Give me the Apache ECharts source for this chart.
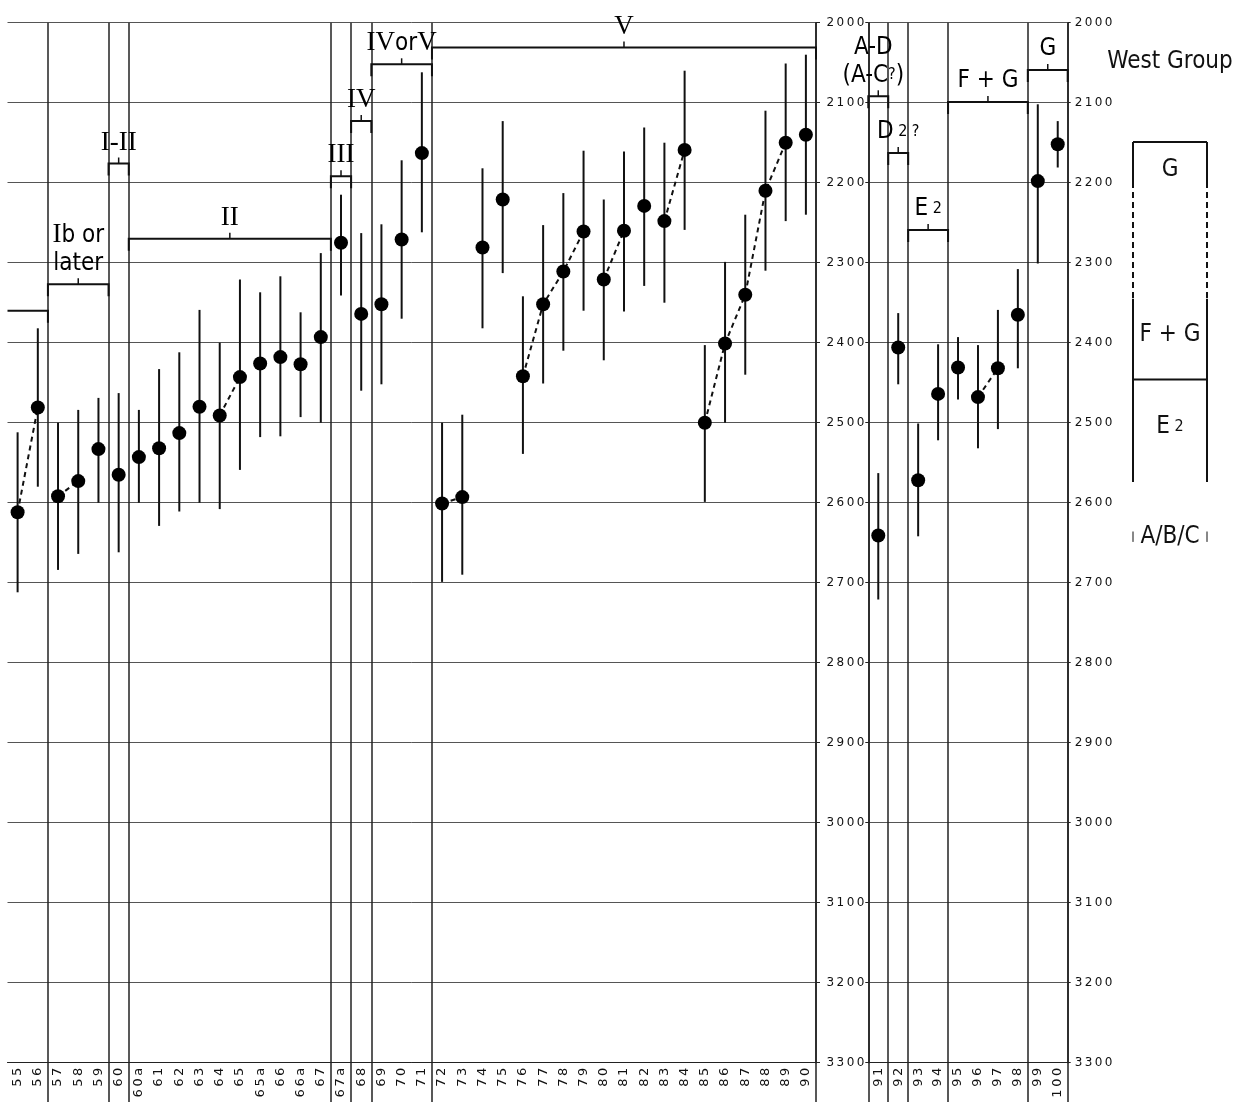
<!DOCTYPE html>
<html>
<head>
<meta charset="utf-8">
<script src="https://cdn.jsdelivr.net/npm/echarts@6/dist/echarts.min.js"></script>
<style>html,body{margin:0;padding:0;background:#fff}#chart{width:1241px;height:1102px}</style>
</head>
<body>
<div id="chart"></div>
<script>
// ---------------- data ----------------
const leftCategories = ['55','56','57','58','59','60','60a','61','62','63','64','65','65a','66','66a','67','67a','68','69','70','71',
  '72','73','74','75','76','77','78','79','80','81','82','83','84','85','86','87','88','89','90'];
const leftMid  = [2612,2481,2592,2573,2533,2565,2543,2532,2513,2480,2491,2443,2426,2418,2427,2393,2275,2364,2352,2271,2163,
  2601,2593,2281,2221,2442,2352,2311,2261,2321,2260,2229,2248,2159,2500,2401,2340,2210,2150,2140];
const leftLow  = [2512,2382,2500,2484,2469,2463,2484,2433,2412,2359,2400,2321,2337,2317,2362,2288,2215,2263,2252,2172,2062,
  2500,2490,2182,2123,2342,2253,2213,2160,2221,2161,2131,2150,2060,2403,2299,2240,2110,2051,2040];
const leftHigh = [2712,2580,2684,2664,2600,2662,2600,2629,2611,2600,2608,2559,2518,2517,2493,2500,2341,2460,2452,2370,2262,
  2699,2690,2382,2313,2539,2451,2410,2360,2422,2361,2329,2350,2259,2599,2500,2440,2310,2248,2240];

const rightCategories = ['91','92','93','94','95','96','97','98','99','100'];
const rightMid  = [2641,2406,2572,2464,2431,2468,2432,2365,2198,2152];
const rightLow  = [2563,2363,2501,2402,2393,2403,2359,2308,2102,2123];
const rightHigh = [2721,2452,2642,2522,2471,2532,2508,2432,2301,2181];

// dated samples joined by dashed lines
const leftLinked  = [['55','56'],['57','58'],['64','65'],['72','73'],['76','77','78','79'],['80','81'],['83','84'],['85','86','87','88','89']];
const rightLinked = [['96','97']];

// divider lines drawn before these samples
const leftDividers  = ['57','60','60a','67a','68','69','72'];
const rightDividers = ['91','92','93','95','99'];

// phase brackets: first sample, last sample, level (years BC), text
const leftPhaseFrom = ['55','57','60','60a','67a','68','69','72'];
const leftPhaseTo   = ['56','59','60','67','67a','68','71','90'];
const leftPhaseAt   = [2360,2327,2176,2270,2192,2123,2052,2031];
const leftPhaseText = ['','Ib or later','I-II','II','III','IV','IV or V','V'];

const rightPhaseFrom = ['91','92','93','95','99'];
const rightPhaseTo   = ['91','92','94','98','100'];
const rightPhaseAt   = [2092,2163,2259,2099,2059];
const rightPhaseText = ['A-D (A-C?)','D2?','E2','F + G','G'];

// West Group key
const keyLevels = [2149,2199,2345,2446,2574];     // top, dashed start, dashed end, divider, bottom
const keyText   = ['West Group','G','F + G','E2','A/B/C'];
const keyTextAt = [2049,2184,2390,2505,2643];
const keyMarks  = [2636,2649];

const yMin = 2000, yMax = 3300, yStep = 100;

// ---------------- styling ----------------
const INK = '#111';
const COND = '"DejaVu Sans Condensed","Liberation Sans Narrow","Arial Narrow","DejaVu Sans",sans-serif';
const SERIF = '"Liberation Serif","DejaVu Serif",serif';
const RICH = {
  r: {fontFamily: SERIF, fontSize: 27, color: INK, lineHeight: 28},
  s: {fontFamily: COND, fontSize: 24, color: INK, lineHeight: 28},
  q: {fontFamily: COND, fontSize: 16, color: INK, lineHeight: 28}
};
const RICH_TEXT = {
  'Ib or later': '{r|I}{s|b or}\n{s|later}',
  'I-II': '{r|I-II}',
  'II': '{r|II}',
  'III': '{r|III}',
  'IV': '{r|IV}',
  'IV or V': '{r|IV}{s|or}{r|V}',
  'V': '{r|V}',
  'A-D (A-C?)': '{s|A-D}\n{s|(A-C}{q|?}{s|)}',
  'D2?': '{s|D}{q| 2 ?}',
  'E2': '{s|E}{q| 2}',
  'F + G': '{s|F + G}',
  'G': '{s|G}',
  'West Group': '{s|West Group}',
  'A/B/C': '{s|A/B/C}'
};
const LABEL_SHIFT = {'A-D (A-C?)': -5};

function spaced(v) { return String(v).split('').join('\u2009'); }

function dividerFn(cats, list) {
  return function (index) { return list.indexOf(cats[index]) >= 0; };
}

function errorBarSeries(cats, low, high, xi, yi) {
  return {
    type: 'custom', xAxisIndex: xi, yAxisIndex: yi, z: 3, clip: false, silent: true,
    data: cats.map((c, i) => [i, low[i], high[i]]),
    encode: {x: 0, y: [1, 2]},
    renderItem: function (params, api) {
      const a = api.coord([api.value(0), api.value(1)]);
      const b = api.coord([api.value(0), api.value(2)]);
      return {type: 'line', shape: {x1: a[0], y1: a[1], x2: b[0], y2: b[1]},
        style: {stroke: INK, lineWidth: 2}};
    }
  };
}

function pointSeries(cats, mid, xi, yi) {
  return {
    type: 'scatter', xAxisIndex: xi, yAxisIndex: yi, z: 5, silent: true,
    symbol: 'circle', symbolSize: 14,
    itemStyle: {color: '#000', opacity: 1},
    data: cats.map((c, i) => [c, mid[i]])
  };
}

function linkSeries(cats, mid, links, xi, yi) {
  return links.map(chain => ({
    type: 'line', xAxisIndex: xi, yAxisIndex: yi, z: 4,
    symbol: 'none', silent: true,
    lineStyle: {color: INK, width: 2, type: [5, 4], opacity: 1},
    data: chain.map(c => [c, mid[cats.indexOf(c)]])
  }));
}

function phaseSeries(cats, from, to, at, text, xi, yi) {
  return {
    type: 'custom', xAxisIndex: xi, yAxisIndex: yi, z: 6, clip: false, silent: true,
    data: from.map((f, i) => [cats.indexOf(f), cats.indexOf(to[i]), at[i]]),
    encode: {x: 0, y: 2},
    renderItem: function (params, api) {
      const t = text[params.dataIndex];
      const a = api.coord([api.value(0), api.value(2)]);
      const b = api.coord([api.value(1), api.value(2)]);
      const half = api.size([1, 0])[0] / 2;
      const x0 = a[0] - half, x1 = b[0] + half, y = a[1];
      const pts = t ? [[x0, y + 12], [x0, y], [x1, y], [x1, y + 12]]
                    : [[x0, y], [x1, y], [x1, y + 12]];
      const children = [{type: 'polyline', shape: {points: pts},
        style: {stroke: INK, lineWidth: 2, fill: null}}];
      if (t) {
        const cx = (x0 + x1) / 2;
        children.push({type: 'line', shape: {x1: cx, y1: y, x2: cx, y2: y - 6},
          style: {stroke: INK, lineWidth: 1.5}});
        children.push({type: 'text', style: {
          text: RICH_TEXT[t] || t, rich: RICH,
          x: cx + (LABEL_SHIFT[t] || 0), y: y - 7,
          align: 'center', verticalAlign: 'bottom',
          textAlign: 'center', textVerticalAlign: 'bottom'
        }});
      }
      return {type: 'group', children: children};
    }
  };
}

function catAxis(gridIndex, cats, dividers) {
  const fn = dividerFn(cats, dividers);
  return {
    type: 'category', gridIndex: gridIndex, data: cats, boundaryGap: true,
    axisLine: {show: true, lineStyle: {color: '#222', width: 1}},
    axisTick: {show: true, interval: fn, length: 40, alignWithLabel: false,
      lineStyle: {color: '#222', width: 1.5}},
    axisLabel: {interval: 0, rotate: 90, fontSize: 13, fontFamily: '"DejaVu Sans",sans-serif',
      color: INK, margin: 5, formatter: spaced},
    splitLine: {show: true, interval: fn, lineStyle: {color: '#222', width: 1.5}}
  };
}

function valAxis(gridIndex, opts) {
  return Object.assign({
    type: 'value', gridIndex: gridIndex, inverse: true,
    min: yMin, max: yMax, interval: yStep,
    axisLine: {show: true, lineStyle: {color: '#222', width: 1.5}},
    axisTick: {show: true, length: 3, lineStyle: {color: '#222'}},
    axisLabel: {show: false},
    splitLine: {show: false}
  }, opts);
}

const yLabel = {show: true, fontSize: 12, fontFamily: '"DejaVu Sans",sans-serif', color: INK, formatter: spaced};

const keySegments = [
  {pts: [[0, keyLevels[0]], [1, keyLevels[0]]]},
  {pts: [[0, keyLevels[0]], [0, keyLevels[1]]]},
  {pts: [[1, keyLevels[0]], [1, keyLevels[1]]]},
  {pts: [[0, keyLevels[1]], [0, keyLevels[2]]], dashed: true},
  {pts: [[1, keyLevels[1]], [1, keyLevels[2]]], dashed: true},
  {pts: [[0, keyLevels[2]], [0, keyLevels[4]]]},
  {pts: [[1, keyLevels[2]], [1, keyLevels[4]]]},
  {pts: [[0, keyLevels[3]], [1, keyLevels[3]]]},
  {pts: [[0, keyMarks[0]], [0, keyMarks[1]]], thin: true},
  {pts: [[1, keyMarks[0]], [1, keyMarks[1]]], thin: true}
];

const option = {
  backgroundColor: '#fff',
  animation: false,
  grid: [
    {left: 7.5, top: 22.7, width: 808.5, height: 1040},
    {left: 868.3, top: 22.7, width: 199.4, height: 1040},
    {left: 1133, top: 22.7, width: 74, height: 1040}
  ],
  xAxis: [
    catAxis(0, leftCategories, leftDividers),
    catAxis(1, rightCategories, rightDividers),
    {type: 'value', gridIndex: 2, min: 0, max: 1, show: false}
  ],
  yAxis: [
    valAxis(0, {position: 'right', axisTick: {show: true, length: 4, lineStyle: {color: '#222'}},
      splitLine: {show: true, lineStyle: {color: '#555', width: 1}}}),
    valAxis(1, {position: 'left', axisLabel: Object.assign({margin: 4}, yLabel),
      splitLine: {show: true, lineStyle: {color: '#555', width: 1}}}),
    valAxis(1, {position: 'right', axisLabel: Object.assign({margin: 7}, yLabel)}),
    {type: 'value', gridIndex: 2, inverse: true, min: yMin, max: yMax, show: false}
  ],
  series: [
    errorBarSeries(leftCategories, leftLow, leftHigh, 0, 0),
    errorBarSeries(rightCategories, rightLow, rightHigh, 1, 1),
    ...linkSeries(leftCategories, leftMid, leftLinked, 0, 0),
    ...linkSeries(rightCategories, rightMid, rightLinked, 1, 1),
    pointSeries(leftCategories, leftMid, 0, 0),
    pointSeries(rightCategories, rightMid, 1, 1),
    phaseSeries(leftCategories, leftPhaseFrom, leftPhaseTo, leftPhaseAt, leftPhaseText, 0, 0),
    phaseSeries(rightCategories, rightPhaseFrom, rightPhaseTo, rightPhaseAt, rightPhaseText, 1, 1),
    ...keySegments.map(s => ({
      type: 'line', xAxisIndex: 2, yAxisIndex: 3, symbol: 'none', silent: true,
      lineStyle: {color: INK, width: s.thin ? 1 : 2, type: s.dashed ? [6, 4] : 'solid', opacity: 1},
      data: s.pts
    })),
    {
      type: 'scatter', xAxisIndex: 2, yAxisIndex: 3, symbolSize: 1, silent: true,
      itemStyle: {color: '#fff', opacity: 1},
      label: {show: true, position: 'inside', color: INK, opacity: 1, rich: RICH,
        formatter: p => RICH_TEXT[p.name] || p.name},
      data: keyText.map((t, i) => ({name: t, value: [0.5, keyTextAt[i]]}))
    }
  ]
};

const chart = echarts.init(document.getElementById('chart'), null, {renderer: 'canvas'});
chart.setOption(option);
</script>
</body>
</html>
